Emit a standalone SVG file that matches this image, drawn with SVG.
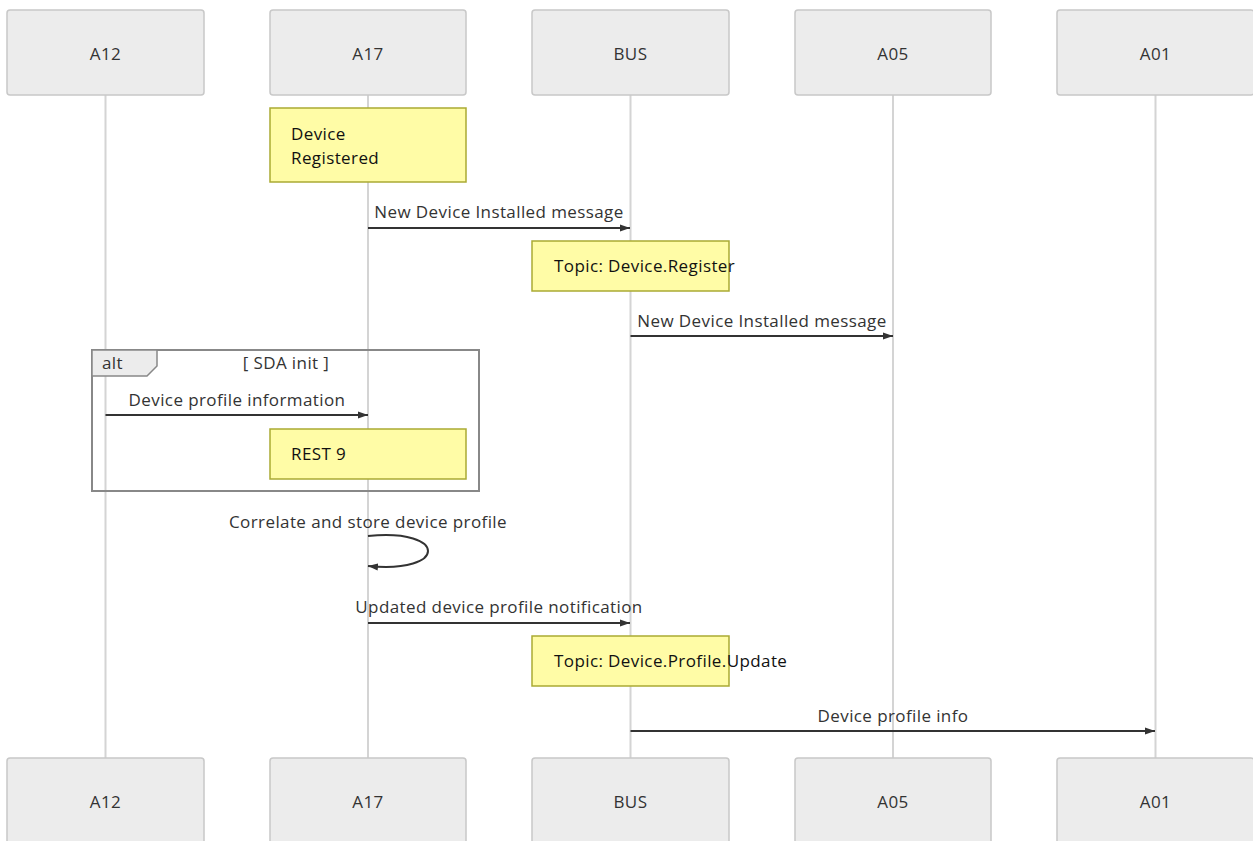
<svg xmlns="http://www.w3.org/2000/svg" width="1253" height="841" viewBox="0 0 1253 841">
<style>
.actor{fill:#ececec;stroke:#c8c8c8;stroke-width:1.5}
.atxt{font-family:"Open Sans","Liberation Sans",sans-serif;font-size:17px;letter-spacing:0.5px;fill:#333;text-anchor:middle;dominant-baseline:central}
.life{stroke:#d4d4d4;stroke-width:2}
.note{fill:#fffca6;stroke:#aaaa33;stroke-width:1.5}
.ntxt{font-family:"Open Sans","Liberation Sans",sans-serif;font-size:17px;letter-spacing:0.4px;fill:#111}
.msg{stroke:#333;stroke-width:2;fill:none}
.mtxt{font-family:"Open Sans","Liberation Sans",sans-serif;font-size:17px;letter-spacing:0.4px;fill:#333;text-anchor:middle}
.loop{fill:none;stroke:#888;stroke-width:2}
</style>
<defs>
<marker id="arr" viewBox="0 0 10 10" refX="10" refY="5" markerWidth="10" markerHeight="10" markerUnits="userSpaceOnUse" orient="auto">
<path d="M0,1.5 L10,5 L0,8.5 z" fill="#333"/>
</marker>
</defs>
<rect width="1253" height="841" fill="#fff"/>
<g id="lifelines">
<line class="life" x1="105.5" y1="95" x2="105.5" y2="758"/>
<line class="life" x1="368" y1="95" x2="368" y2="758"/>
<line class="life" x1="630.5" y1="95" x2="630.5" y2="758"/>
<line class="life" x1="893" y1="95" x2="893" y2="758"/>
<line class="life" x1="1155.5" y1="95" x2="1155.5" y2="758"/>
</g>
<g id="actor-A12-top"><rect class="actor" x="7" y="10" width="197" height="85" rx="3"/><text class="atxt" x="105.5" y="53">A12</text></g>
<g id="actor-A17-top"><rect class="actor" x="270" y="10" width="196" height="85" rx="3"/><text class="atxt" x="368" y="53">A17</text></g>
<g id="actor-BUS-top"><rect class="actor" x="532" y="10" width="197" height="85" rx="3"/><text class="atxt" x="630.5" y="53">BUS</text></g>
<g id="actor-A05-top"><rect class="actor" x="795" y="10" width="196" height="85" rx="3"/><text class="atxt" x="893" y="53">A05</text></g>
<g id="actor-A01-top"><rect class="actor" x="1057" y="10" width="197" height="85" rx="3"/><text class="atxt" x="1155.5" y="53">A01</text></g>
<g id="actor-A12-bottom"><rect class="actor" x="7" y="758" width="197" height="90" rx="3"/><text class="atxt" x="105.5" y="801">A12</text></g>
<g id="actor-A17-bottom"><rect class="actor" x="270" y="758" width="196" height="90" rx="3"/><text class="atxt" x="368" y="801">A17</text></g>
<g id="actor-BUS-bottom"><rect class="actor" x="532" y="758" width="197" height="90" rx="3"/><text class="atxt" x="630.5" y="801">BUS</text></g>
<g id="actor-A05-bottom"><rect class="actor" x="795" y="758" width="196" height="90" rx="3"/><text class="atxt" x="893" y="801">A05</text></g>
<g id="actor-A01-bottom"><rect class="actor" x="1057" y="758" width="197" height="90" rx="3"/><text class="atxt" x="1155.5" y="801">A01</text></g>
<g id="note-registered"><rect class="note" x="270" y="108" width="196" height="74"/><text class="ntxt" x="291" y="140">Device</text><text class="ntxt" x="291" y="164">Registered</text></g>
<g id="note-topic-register"><rect class="note" x="532" y="241" width="197" height="50"/><text class="ntxt" x="554" y="272">Topic: Device.Register</text></g>
<g id="alt-frame">
<rect class="loop" x="92" y="350" width="387" height="141"/>
<path d="M92,350 L157,350 L157,366 L147,376 L92,376 z" fill="#ececec" stroke="#888" stroke-width="1.5"/>
<text class="ntxt" x="102" y="369" style="fill:#333">alt</text>
<text class="mtxt" x="286" y="369">[ SDA init ]</text>
</g>
<g id="note-rest9"><rect class="note" x="270" y="429" width="196" height="50"/><text class="ntxt" x="291" y="460">REST 9</text></g>
<g id="note-topic-update"><rect class="note" x="532" y="636" width="197" height="50"/><text class="ntxt" x="554" y="667">Topic: Device.Profile.Update</text></g>
<g id="connectors">
<line class="msg" x1="368" y1="228" x2="630" y2="228" marker-end="url(#arr)"/>
<text class="mtxt" x="499" y="218">New Device Installed message</text>
<line class="msg" x1="630.5" y1="336" x2="893" y2="336" marker-end="url(#arr)"/>
<text class="mtxt" x="762" y="327">New Device Installed message</text>
<line class="msg" x1="105.5" y1="415" x2="368" y2="415" marker-end="url(#arr)"/>
<text class="mtxt" x="237" y="406">Device profile information</text>
<path class="msg" d="M368,536 C448,528 448,574 368,566" marker-end="url(#arr)"/>
<text class="mtxt" x="368" y="528">Correlate and store device profile</text>
<line class="msg" x1="368" y1="623" x2="630" y2="623" marker-end="url(#arr)"/>
<text class="mtxt" x="499" y="613">Updated device profile notification</text>
<line class="msg" x1="630.5" y1="731" x2="1155" y2="731" marker-end="url(#arr)"/>
<text class="mtxt" x="893" y="722">Device profile info</text>
</g>
</svg>
